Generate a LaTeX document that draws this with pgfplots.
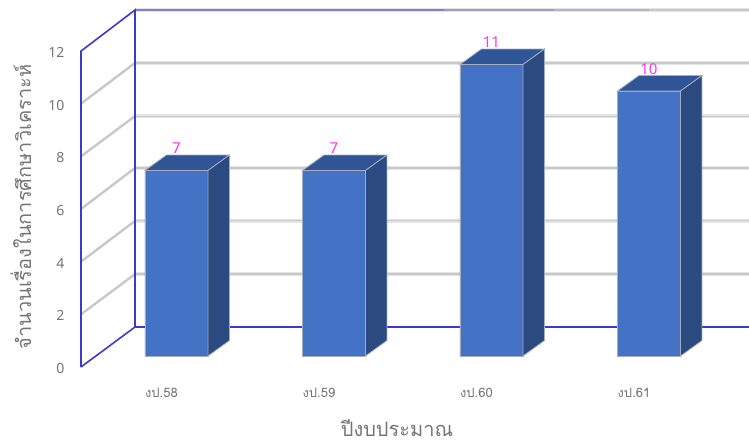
\documentclass[border=0pt]{standalone}
\usepackage{fontspec}
\usepackage{pgfplots}
\pgfplotsset{compat=1.18}
\setmainfont{Noto Sans}
\newfontfamily\thaifont[Script=Thai]{Loma}
\definecolor{barfront}{HTML}{4472C4}
\definecolor{bartop}{HTML}{2F5597}
\definecolor{barside}{HTML}{2A4A80}
\definecolor{baredge}{HTML}{A4ADBF}
\definecolor{wallblue}{HTML}{3A3AD0}
\definecolor{gridlight}{HTML}{E4E4E4}
\definecolor{griddark}{HTML}{C8C8C8}
\definecolor{labelgray}{HTML}{757575}
\definecolor{valuepink}{HTML}{FF33F0}
\pgfplotsset{
  chartbox/.style={
    at={(81pt,73pt)},
    scale only axis,
    width=668pt,
    height=357pt,
    xmin=-0.606, xmax=3.635,
    clip=false,
    /pgf/number format/assume math mode=true,
  },
  backgrid/.style={gridlight, line width=3.6pt, forget plot},
  backgridin/.style={griddark, line width=1.2pt, forget plot},
  sidegrid/.style={griddark, line width=2.4pt, forget plot},
}
\begin{document}
\begin{tikzpicture}
\path[use as bounding box] (0pt,0pt) rectangle (749pt,440pt);

% walls, grid and labels
\begin{axis}[
  chartbox,
  ymin=0, ymax=13.56,
  axis line style={draw=none},
  major tick length=0pt,
  xtick={0,1,2,3},
  xticklabels={งป.58,งป.59,งป.60,งป.61},
  xticklabel style={font=\thaifont\fontsize{13pt}{15pt}\selectfont, text=labelgray, anchor=center, xshift=-15pt, yshift=-26pt},
  ytick={0,2,4,6,8,10,12},
  yticklabel style={font=\fontsize{14pt}{16pt}\selectfont, text=labelgray, anchor=east, xshift=-13pt, yshift=-1.5pt},
  xlabel={\thaifont\fontsize{20pt}{22pt}\selectfont ปีงบประมาณ},
  xlabel style={at={(axis description cs:0.473,-0.171)}, anchor=center, text=labelgray},
  ylabel={\thaifont\fontsize{20pt}{24pt}\selectfont จำนวนเรื่องในการศึกษาวิเคราะห์},
  ylabel style={at={(axis description cs:-0.090,0.448)}, anchor=center, text=labelgray},
]
% back wall grid
\addplot[backgrid] coordinates {(-0.263,3.53) (3.635,3.53)};
\addplot[backgridin] coordinates {(-0.263,3.53) (3.635,3.53)};
\addplot[backgrid] coordinates {(-0.263,5.55) (3.635,5.55)};
\addplot[backgridin] coordinates {(-0.263,5.55) (3.635,5.55)};
\addplot[backgrid] coordinates {(-0.263,7.56) (3.635,7.56)};
\addplot[backgridin] coordinates {(-0.263,7.56) (3.635,7.56)};
\addplot[backgrid] coordinates {(-0.263,9.53) (3.635,9.53)};
\addplot[backgridin] coordinates {(-0.263,9.53) (3.635,9.53)};
\addplot[backgrid] coordinates {(-0.263,11.55) (3.635,11.55)};
\addplot[backgridin] coordinates {(-0.263,11.55) (3.635,11.55)};
% top edge, fades from blue to grey
\addplot[backgrid] coordinates {(-0.263,13.56) (3.635,13.56)};
\addplot[wallblue!50!griddark, line width=2pt, forget plot] coordinates {(-0.263,13.56) (1.7,13.56)};
\addplot[wallblue!30!griddark, line width=2pt, forget plot] coordinates {(1.7,13.56) (2.4,13.56)};
\addplot[wallblue!15!griddark, line width=2pt, forget plot] coordinates {(2.4,13.56) (3,13.56)};
\addplot[griddark, line width=2pt, forget plot] coordinates {(3,13.56) (3.635,13.56)};
% side wall grid
\addplot[sidegrid] coordinates {(-0.606,2) (-0.263,3.53)};
\addplot[sidegrid] coordinates {(-0.606,4) (-0.263,5.55)};
\addplot[sidegrid] coordinates {(-0.606,6) (-0.263,7.56)};
\addplot[sidegrid] coordinates {(-0.606,8) (-0.263,9.53)};
\addplot[sidegrid] coordinates {(-0.606,10) (-0.263,11.55)};
% wall edges
\addplot[griddark, line width=2.8pt, forget plot] coordinates {(-0.606,0) (-0.606,12)};
\addplot[griddark, line width=2.8pt, forget plot] coordinates {(-0.263,1.52) (-0.263,13.56)};
\addplot[griddark, line width=2.8pt, forget plot] coordinates {(-0.263,1.52) (3.635,1.52)};
\addplot[wallblue, line width=1.6pt, forget plot] coordinates {(-0.606,0) (-0.606,12) (-0.263,13.56) (-0.263,1.52) (-0.606,0)};
\addplot[wallblue, line width=1.6pt, forget plot] coordinates {(-0.263,1.52) (3.635,1.52)};
\end{axis}

% bars, on the same box with base 12 px above the front floor
\begin{axis}[
  chartbox,
  ymin=-0.415, ymax=13.057,
  hide axis,
]
\addplot[ybar, bar width=63pt, fill=barfront, draw=baredge, line width=0.8pt,
  nodes near coords,
  every node near coord/.style={anchor=center, yshift=22pt, text=valuepink, font=\fontsize{15pt}{17pt}\selectfont}]
  coordinates {(0,7) (1,7) (2,11) (3,10)};
% top faces
\addplot[fill=bartop, draw=baredge, line width=0.8pt, forget plot] coordinates {(-0.2,7) (-0.0635,7.585) (0.3365,7.585) (0.2,7)} -- cycle;
\addplot[fill=bartop, draw=baredge, line width=0.8pt, forget plot] coordinates {(0.8,7) (0.9365,7.585) (1.3365,7.585) (1.2,7)} -- cycle;
\addplot[fill=bartop, draw=baredge, line width=0.8pt, forget plot] coordinates {(1.8,11) (1.9365,11.585) (2.3365,11.585) (2.2,11)} -- cycle;
\addplot[fill=bartop, draw=baredge, line width=0.8pt, forget plot] coordinates {(2.8,10) (2.9365,10.585) (3.3365,10.585) (3.2,10)} -- cycle;
% side faces
\addplot[fill=barside, draw=baredge, line width=0.8pt, forget plot] coordinates {(0.2,0) (0.3365,0.585) (0.3365,7.585) (0.2,7)} -- cycle;
\addplot[fill=barside, draw=baredge, line width=0.8pt, forget plot] coordinates {(1.2,0) (1.3365,0.585) (1.3365,7.585) (1.2,7)} -- cycle;
\addplot[fill=barside, draw=baredge, line width=0.8pt, forget plot] coordinates {(2.2,0) (2.3365,0.585) (2.3365,11.585) (2.2,11)} -- cycle;
\addplot[fill=barside, draw=baredge, line width=0.8pt, forget plot] coordinates {(3.2,0) (3.3365,0.585) (3.3365,10.585) (3.2,10)} -- cycle;
\end{axis}
\end{tikzpicture}
\end{document}
